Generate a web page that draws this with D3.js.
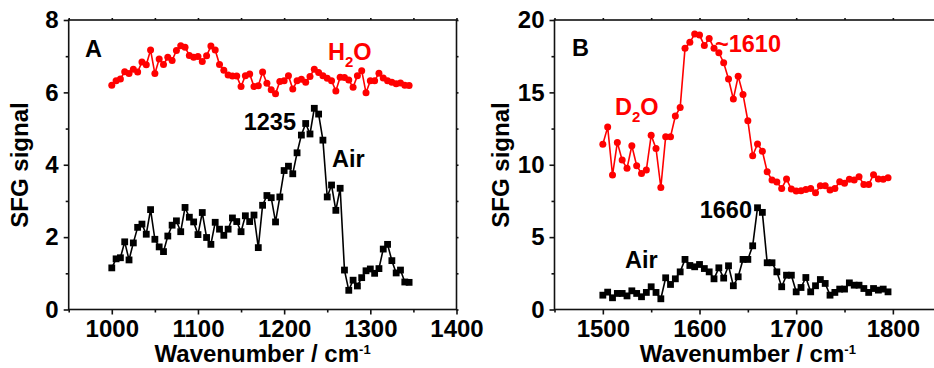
<!DOCTYPE html>
<html>
<head>
<meta charset="utf-8">
<script src="https://cdn.jsdelivr.net/npm/d3@7/dist/d3.min.js"></script>
<style>
  html, body { margin: 0; padding: 0; background: #fff; }
  svg { display: block; font-family: "Liberation Sans", Arial, sans-serif; font-weight: bold; }
</style>
</head>
<body>
<svg id="chart" width="934" height="368"></svg>
<script>
// Panel A: 1000–1345 cm^-1, 5 cm^-1 steps
const wavenumberA = d3.range(1000, 1350, 5);
const airA = [1.15, 1.40, 1.43, 1.87, 1.37, 1.84, 2.27, 2.36, 2.08, 2.76,
  1.94, 1.73, 1.60, 2.03, 2.33, 2.45, 2.15, 2.82, 2.55, 2.42,
  2.07, 2.68, 1.99, 1.80, 2.41, 2.22, 2.05, 2.22, 2.53, 2.43,
  2.15, 2.59, 2.43, 2.61, 1.71, 2.88, 3.15, 3.09, 2.42, 3.11,
  3.84, 3.96, 3.75, 4.33, 4.82, 5.14, 4.85, 5.56, 5.40, 4.68,
  3.11, 3.44, 2.74, 3.35, 1.09, 0.53, 0.81, 0.65, 0.88, 1.07,
  1.12, 1.00, 1.13, 1.67, 1.80, 1.35, 1.01, 1.09, 0.76, 0.75];
const waterA = [6.20, 6.32, 6.37, 6.57, 6.52, 6.64, 6.56, 6.84, 6.76, 7.17,
  6.52, 6.92, 6.77, 6.97, 6.88, 7.16, 7.29, 7.25, 7.02, 6.97,
  6.99, 6.85, 7.01, 7.28, 7.17, 6.77, 6.61, 6.48, 6.45, 6.45,
  6.16, 6.46, 6.51, 6.16, 6.18, 6.56, 6.25, 6.07, 5.96, 6.30,
  6.32, 6.46, 6.09, 6.32, 6.36, 6.28, 6.44, 6.64, 6.55, 6.46,
  6.39, 6.32, 6.04, 6.42, 6.41, 6.34, 6.14, 6.46, 6.60, 5.99,
  6.32, 6.32, 6.53, 6.40, 6.32, 6.28, 6.24, 6.26, 6.20, 6.19];

// Panel B: 1500–1795 cm^-1, 5 cm^-1 steps
const wavenumberB = d3.range(1500, 1800, 5);
const airB = [0.99, 1.20, 0.81, 1.11, 1.11, 0.94, 1.29, 1.11, 0.88, 1.18,
  1.57, 1.18, 0.74, 2.19, 1.73, 2.12, 2.60, 3.46, 3.04, 2.95,
  3.11, 2.83, 2.60, 2.12, 2.88, 2.17, 3.02, 1.64, 2.26, 3.46,
  3.46, 4.40, 7.03, 6.71, 3.23, 3.23, 2.60, 1.57, 2.37, 2.37,
  1.22, 1.52, 2.21, 1.22, 1.64, 2.07, 1.80, 0.99, 1.18, 1.41,
  1.41, 1.84, 1.68, 1.68, 1.45, 1.18, 1.45, 1.34, 1.41, 1.22];
const heavyWaterB = [11.41, 12.60, 9.29, 11.54, 10.32, 9.75, 11.31, 9.93, 9.40, 9.63,
  12.03, 11.13, 8.43, 11.94, 11.94, 13.36, 13.96, 18.04, 18.46, 19.03,
  18.96, 18.23, 18.73, 18.04, 17.74, 17.05, 15.92, 14.54, 16.11, 14.86,
  13.04, 10.62, 11.43, 10.94, 9.52, 8.94, 8.80, 8.36, 9.01, 8.32,
  8.18, 8.20, 8.29, 8.36, 8.06, 8.55, 8.55, 8.25, 8.36, 8.82,
  8.73, 8.99, 8.94, 9.17, 8.64, 8.64, 9.31, 9.01, 8.99, 9.10];

// Axis ticks
const xTicksA = [1000, 1100, 1200, 1300, 1400];
const xMinorA = [950, 1050, 1150, 1250, 1350];
const yTicksA = [0, 2, 4, 6, 8];
const yMinorA = [1, 3, 5, 7];
const xTicksB = [1500, 1600, 1700, 1800];
const xMinorB = [1450, 1550, 1650, 1750, 1850];
const yTicksB = [0, 5, 10, 15, 20];
const yMinorB = [2.5, 7.5, 12.5, 17.5];

const RED = "#ff0000";
const TICK_FONT = 24;
const TITLE_FONT = 24;
const NOTE_FONT = 23.5;
const svg = d3.select("#chart");

function panel(opt) {
  const x = d3.scaleLinear().domain(opt.xDomain).range(opt.xRange);
  const y = d3.scaleLinear().domain(opt.yDomain).range([309.5, 20]);
  const g = svg.append("g");
  const [x0, x1] = opt.xRange, y0 = 309.5, y1 = 20;

  // frame
  g.append("rect").attr("x", x0).attr("y", y1)
    .attr("width", x1 - x0).attr("height", y0 - y1)
    .attr("fill", "none").attr("stroke", "#111").attr("stroke-width", 1.6);

  const styleAxis = sel => {
    sel.select(".domain").remove();
    sel.selectAll(".tick line").attr("stroke", "#111").attr("stroke-width", 1.6);
    sel.selectAll("text").attr("font-size", TICK_FONT).attr("font-weight", "bold")
      .attr("font-family", "Liberation Sans, Arial, sans-serif").attr("fill", "#000");
  };

  // bottom axis
  g.append("g").attr("transform", `translate(0,${y0})`)
    .call(d3.axisBottom(x).tickValues(opt.xTicks).tickFormat(d3.format("d")).tickSize(5).tickPadding(5))
    .call(styleAxis);
  g.append("g").attr("transform", `translate(0,${y0})`)
    .call(d3.axisBottom(x).tickValues(opt.xMinor).tickFormat("").tickSize(3))
    .call(styleAxis);
  // left axis
  g.append("g").attr("transform", `translate(${x0},0)`)
    .call(d3.axisLeft(y).tickValues(opt.yTicks).tickFormat(d3.format("d")).tickSize(5).tickPadding(5))
    .call(styleAxis);
  g.append("g").attr("transform", `translate(${x0},0)`)
    .call(d3.axisLeft(y).tickValues(opt.yMinor).tickFormat("").tickSize(3))
    .call(styleAxis);
  // top and right mirror ticks
  g.append("g").attr("transform", `translate(0,${y1})`)
    .call(d3.axisTop(x).tickValues(opt.xTicks.concat(opt.xMinor)).tickFormat("").tickSize(2))
    .call(styleAxis);
  g.append("g").attr("transform", `translate(${x1},0)`)
    .call(d3.axisRight(y).tickValues(opt.yTicks.concat(opt.yMinor)).tickFormat("").tickSize(2))
    .call(styleAxis);

  // axis titles
  const title = g.append("text")
    .attr("x", (x0 + x1) / 2).attr("y", 362)
    .attr("text-anchor", "middle").attr("font-size", TITLE_FONT).attr("font-weight", "bold");
  title.append("tspan").text("Wavenumber / cm");
  title.append("tspan").attr("font-size", 13).attr("dy", -8).text("-1");

  g.append("text")
    .attr("transform", `translate(${opt.yTitleX},165) rotate(-90)`)
    .attr("text-anchor", "middle").attr("font-size", TITLE_FONT).attr("font-weight", "bold")
    .text("SFG signal");

  // series
  const line = d3.line().x(d => x(d[0])).y(d => y(d[1]));
  const plot = g.append("g");

  const red = d3.zip(opt.wn, opt.liquid);
  plot.append("path").datum(red).attr("d", line)
    .attr("fill", "none").attr("stroke", RED).attr("stroke-width", 1.6);
  plot.selectAll("circle.liq").data(red).join("circle").attr("class", "liq")
    .attr("cx", d => x(d[0])).attr("cy", d => y(d[1])).attr("r", 3.5).attr("fill", RED);

  const blk = d3.zip(opt.wn, opt.air);
  plot.append("path").datum(blk).attr("d", line)
    .attr("fill", "none").attr("stroke", "#000").attr("stroke-width", 1.6);
  plot.selectAll("rect.air").data(blk).join("rect").attr("class", "air")
    .attr("x", d => x(d[0]) - 3.4).attr("y", d => y(d[1]) - 3.4)
    .attr("width", 6.8).attr("height", 6.8).attr("fill", "#000");

  return { g, x, y };
}

const A = panel({
  xDomain: [950, 1400], xRange: [68.7, 456.5],
  yDomain: [0, 8], xTicks: xTicksA, xMinor: xMinorA, yTicks: yTicksA, yMinor: yMinorA,
  wn: wavenumberA, air: airA, liquid: waterA, yTitleX: 28
});
const B = panel({
  xDomain: [1450, 1850], xRange: [554.5, 941.2],
  yDomain: [0, 20], xTicks: xTicksB, xMinor: xMinorB, yTicks: yTicksB, yMinor: yMinorB,
  wn: wavenumberB, air: airB, liquid: heavyWaterB, yTitleX: 509
});

// annotations
function label(g, x, y, txt, color, anchor) {
  return g.append("text").attr("x", x).attr("y", y).attr("font-size", NOTE_FONT)
    .attr("font-weight", "bold").attr("fill", color).attr("text-anchor", anchor || "start").text(txt);
}
function formula(g, x, y, a, sub, b, color) {
  const t = g.append("text").attr("x", x).attr("y", y).attr("font-size", NOTE_FONT)
    .attr("font-weight", "bold").attr("fill", color);
  t.append("tspan").text(a);
  t.append("tspan").attr("font-size", 15).attr("dy", 7).text(sub);
  t.append("tspan").attr("dy", -7).text(b);
}

label(A.g, 85, 57, "A", "#000");
formula(A.g, 328, 60, "H", "2", "O", RED);
label(A.g, 296, 130, "1235", "#000", "end");
label(A.g, 332, 167, "Air", "#000");

label(B.g, 572, 56, "B", "#000");
formula(B.g, 615, 115, "D", "2", "O", RED);
label(B.g, 715, 52, "~1610", RED);
label(B.g, 752, 218, "1660", "#000", "end");
label(B.g, 625, 268, "Air", "#000");
</script>
</body>
</html>
